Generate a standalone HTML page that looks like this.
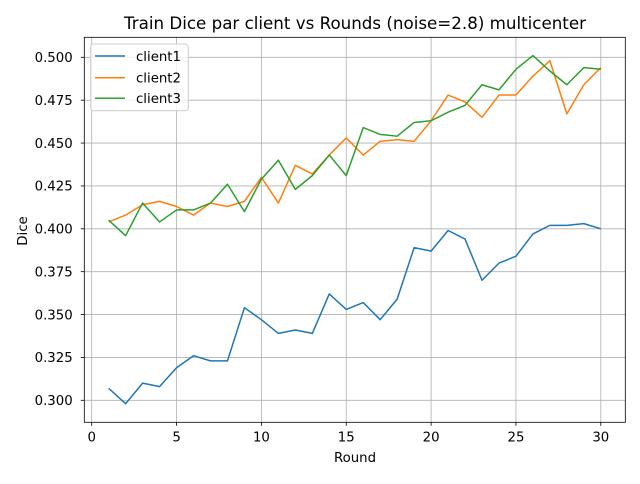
<!DOCTYPE html>
<html><head><meta charset="utf-8"><style>
body{margin:0;background:#fff;font-family:"DejaVu Sans","Liberation Sans",sans-serif}
svg text{font-family:"DejaVu Sans","Liberation Sans",sans-serif;fill:#000}
</style></head><body>
<svg id="chart" width="640" height="480" xmlns="http://www.w3.org/2000/svg">
<rect width="640" height="480" fill="#fff"/>
<text x="355" y="29" text-anchor="middle" font-size="16.7">Train Dice par client vs Rounds (noise=2.8) multicenter</text>
<g id="grid"></g><g id="series"></g><g id="ticks"></g>
<rect x="84.3" y="37.3" width="541" height="385" fill="none" stroke="#000" stroke-width="0.8"/>
<text x="355" y="462" text-anchor="middle" font-size="13.3">Round</text>
<text transform="translate(27,231) rotate(-90)" text-anchor="middle" font-size="13.3">Dice</text>
<g>
<rect x="90.7" y="44" width="97.6" height="66.7" rx="3" fill="#fff" fill-opacity="0.8" stroke="#ccc"/>
<line x1="95" y1="56" x2="125" y2="56" stroke="#1f77b4" stroke-width="1.5"/><text x="136" y="61" font-size="13.3">client1</text>
<line x1="95" y1="77.7" x2="125" y2="77.7" stroke="#ff7f0e" stroke-width="1.5"/><text x="136" y="82.5" font-size="13.3">client2</text>
<line x1="95" y1="98.3" x2="125" y2="98.3" stroke="#2ca02c" stroke-width="1.5"/><text x="136" y="103" font-size="13.3">client3</text>
</g>
</svg>
<script>
const rounds=[1,2,3,4,5,6,7,8,9,10,11,12,13,14,15,16,17,18,19,20,21,22,23,24,25,26,27,28,29,30];
const client1=[0.307,0.298,0.310,0.308,0.319,0.326,0.323,0.323,0.354,0.347,0.339,0.341,0.339,0.362,0.353,0.357,0.347,0.359,0.389,0.387,0.399,0.394,0.370,0.380,0.384,0.397,0.402,0.402,0.403,0.400];
const client2=[0.404,0.408,0.414,0.416,0.413,0.408,0.415,0.413,0.416,0.430,0.415,0.437,0.432,0.443,0.453,0.443,0.451,0.452,0.451,0.463,0.478,0.474,0.465,0.478,0.478,0.489,0.498,0.467,0.484,0.494];
const client3=[0.405,0.396,0.415,0.404,0.411,0.411,0.415,0.426,0.410,0.429,0.440,0.423,0.431,0.443,0.431,0.459,0.455,0.454,0.462,0.463,0.468,0.472,0.484,0.481,0.493,0.501,0.492,0.484,0.494,0.493];
const xTicks=[0,5,10,15,20,25,30];
const yTicks=[0.300,0.325,0.350,0.375,0.400,0.425,0.450,0.475,0.500];
const NS="http://www.w3.org/2000/svg";
function X(v){return 91.7+v*16.97;}
function Y(v){return 400.3-(v-0.3)*1715;}
function mk(t,a,p){const e=document.createElementNS(NS,t);for(const k in a)e.setAttribute(k,a[k]);p.appendChild(e);return e;}
const grid=document.getElementById('grid'),ticks=document.getElementById('ticks'),ser=document.getElementById('series');
xTicks.forEach(v=>{
 const g=mk('line',{x1:X(v),x2:X(v),y1:37.3,y2:422.3,stroke:'#b0b0b0','stroke-width':0.8},grid);
 
 mk('line',{x1:X(v),x2:X(v),y1:422.3,y2:425.8,stroke:'#000','stroke-width':0.8},ticks);
 const t=mk('text',{x:X(v),y:441.5,'text-anchor':'middle','font-size':13.3},ticks);t.textContent=v;
 
});
yTicks.forEach(v=>{
 const g=mk('line',{x1:84.3,x2:625.3,y1:Y(v),y2:Y(v),stroke:'#b0b0b0','stroke-width':0.8},grid);
 
 mk('line',{x1:80.8,x2:84.3,y1:Y(v),y2:Y(v),stroke:'#000','stroke-width':0.8},ticks);
 const t=mk('text',{x:72.7,y:Y(v)+4.8,'text-anchor':'end','font-size':13.3},ticks);t.textContent=v.toFixed(3);
 
});
[[client1,'#1f77b4','client1-line'],[client2,'#ff7f0e','client2-line'],[client3,'#2ca02c','client3-line']].forEach(([d,c,n])=>{
 const p=mk('polyline',{points:d.map((v,i)=>X(rounds[i])+','+Y(v)).join(' '),fill:'none',stroke:c,'stroke-width':1.5,'stroke-linejoin':'round'},ser);
 
});
</script>
</body></html>
